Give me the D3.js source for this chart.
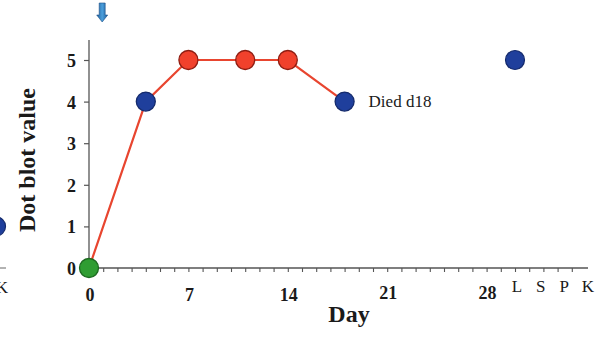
<!DOCTYPE html>
<html>
<head>
<meta charset="utf-8">
<script src="https://cdn.jsdelivr.net/npm/d3@7"></script>
<style>
  html, body { margin: 0; padding: 0; background: #fff; }
  svg { display: block; }
  svg text { font-family: "Liberation Serif", "Times New Roman", Times, serif !important; fill: #1a1a1a; }
</style>
</head>
<body>
<script>
// Time course of the dot blot score (days after infection)
const days = [0, 4, 7, 11, 14, 18];
const values = [0, 4, 5, 5, 5, 4];
const markerKind = ["baseline", "positive", "peak", "peak", "peak", "positive"];

// Terminal tissue samples
const tissues = ["L", "S", "P", "K"];
const tissueValues = [5, null, null, null];
// Last tissue of the preceding animal's panel
const prevTissueValues = [null, null, null, 1];

const dayTicks = [0, 7, 14, 21, 28];
const valueTicks = [0, 1, 2, 3, 4, 5];
const inoculationDay = 1;
const deathNote = "Died d18";

const W = 602, H = 338;
const kindFill = { baseline: "#2f9d32", positive: "#1f3f9c", peak: "#f1412c" };
const kindStroke = { baseline: "#1d6a20", positive: "#142a6c", peak: "#8e1d12" };

const svg = d3.select("body").append("svg").attr("width", W).attr("height", H);

const x = d3.scaleLinear().domain([0, 35]).range([89, 586]);
const y = d3.scaleLinear().domain([0, 5]).range([268, 60]);
const tissueX = d3.scalePoint().domain(tissues).range([x(30), x(35)]);

// arrow gradient
const defs = svg.append("defs");
const grad = defs.append("linearGradient").attr("id", "arrowGrad")
  .attr("x1", "0%").attr("x2", "100%").attr("y1", "0%").attr("y2", "0%");
grad.append("stop").attr("offset", "0%").attr("stop-color", "#1d5d9a");
grad.append("stop").attr("offset", "50%").attr("stop-color", "#4b9fdc");
grad.append("stop").attr("offset", "100%").attr("stop-color", "#1d5d9a");

// fragment of the preceding panel at the left edge
const prev = svg.append("g").attr("transform", "translate(-584,0)");
prev.append("line").attr("x1", x(34)).attr("x2", x(35) + 4)
  .attr("y1", y(0)).attr("y2", y(0)).attr("stroke", "#666").attr("stroke-width", 1);
prev.append("text").attr("x", tissueX("K")).attr("y", 293)
  .attr("text-anchor", "middle").attr("font-size", 17).text("K");
prev.selectAll("circle").data(tissues.map((t, i) => ({ t, v: prevTissueValues[i] })).filter(d => d.v != null))
  .join("circle")
  .attr("cx", d => tissueX(d.t) - 6).attr("cy", d => y(d.v)).attr("r", 9.5)
  .attr("fill", kindFill.positive).attr("stroke", kindStroke.positive).attr("stroke-width", 1.2);

// y axis
const yAxis = d3.axisLeft(y).tickValues(valueTicks).tickSize(5).tickPadding(8).tickFormat(d3.format("d"));
const gy = svg.append("g").attr("transform", `translate(${x(0)},0)`).call(yAxis);
gy.select(".domain").attr("d", `M0,${y(0)}V${y(5.48)}`).attr("stroke", "#555").attr("stroke-width", 1.3);
gy.selectAll(".tick line").attr("stroke", "#555").attr("stroke-width", 1.2);
gy.selectAll(".tick text").attr("font-weight", "bold")
  .attr("font-size", 18).attr("fill", "#222").attr("dy", "0.36em");

// x axis: a tick every day, labels every week
const xAxis = d3.axisBottom(x).tickValues(d3.range(1, 35)).tickSize(4)
  .tickFormat(() => "");
const gx = svg.append("g").attr("transform", `translate(0,${y(0)})`).call(xAxis);
gx.select(".domain").attr("d", `M${x(0)},0H${x(35) + 2}`).attr("stroke", "#555").attr("stroke-width", 1.3);
gx.selectAll(".tick line").attr("stroke", "#555").attr("stroke-width", 1.1);

svg.append("g").selectAll("text").data(dayTicks).join("text")
  .attr("x", d => x(d) + 1).attr("y", d => d >= 21 ? 299 : 301)
  .attr("text-anchor", "middle").attr("font-weight", "bold").attr("font-size", 18)
  .attr("fill", "#222").text(d => d);

svg.append("g").selectAll("text").data(tissues).join("text")
  .attr("x", d => tissueX(d) + 2).attr("y", 292)
  .attr("text-anchor", "middle").attr("font-size", 17).attr("fill", "#222").text(d => d);

// axis titles
svg.append("text").attr("x", 349).attr("y", 322).attr("text-anchor", "middle")
  .attr("font-weight", "bold").attr("font-size", 24).text("Day");
svg.append("text").attr("transform", `translate(35,160) rotate(-90)`).attr("text-anchor", "middle")
  .attr("font-weight", "bold").attr("font-size", 24).text("Dot blot value");

// inoculation arrow
const ax = x(inoculationDay) - 1;
svg.append("path")
  .attr("d", `M${ax - 3},3 H${ax + 3} V15 H${ax + 5.5} L${ax},22 L${ax - 5.5},15 H${ax - 3} Z`)
  .attr("fill", "url(#arrowGrad)").attr("stroke", "#1b4f86").attr("stroke-width", 0.6);

// series line
const pts = days.map((d, i) => ({ d, v: values[i], k: markerKind[i] }));
svg.append("path").datum(pts)
  .attr("d", d3.line().x(p => x(p.d)).y(p => y(p.v)))
  .attr("fill", "none").attr("stroke", "#e8452f").attr("stroke-width", 2.2);

svg.append("g").selectAll("circle").data(pts).join("circle")
  .attr("cx", p => x(p.d)).attr("cy", p => y(p.v)).attr("r", 9.5)
  .attr("fill", p => kindFill[p.k]).attr("stroke", p => kindStroke[p.k]).attr("stroke-width", 1.3);

// tissue values
svg.append("g").selectAll("circle")
  .data(tissues.map((t, i) => ({ t, v: tissueValues[i] })).filter(d => d.v != null))
  .join("circle")
  .attr("cx", d => tissueX(d.t)).attr("cy", d => y(d.v)).attr("r", 9.5)
  .attr("fill", kindFill.positive).attr("stroke", kindStroke.positive).attr("stroke-width", 1.2);

// death annotation
const last = pts[pts.length - 1];
svg.append("text").attr("x", x(last.d) + 24).attr("y", y(last.v) + 5)
  .attr("font-size", 17).attr("fill", "#222").text(deathNote);
</script>
</body>
</html>
